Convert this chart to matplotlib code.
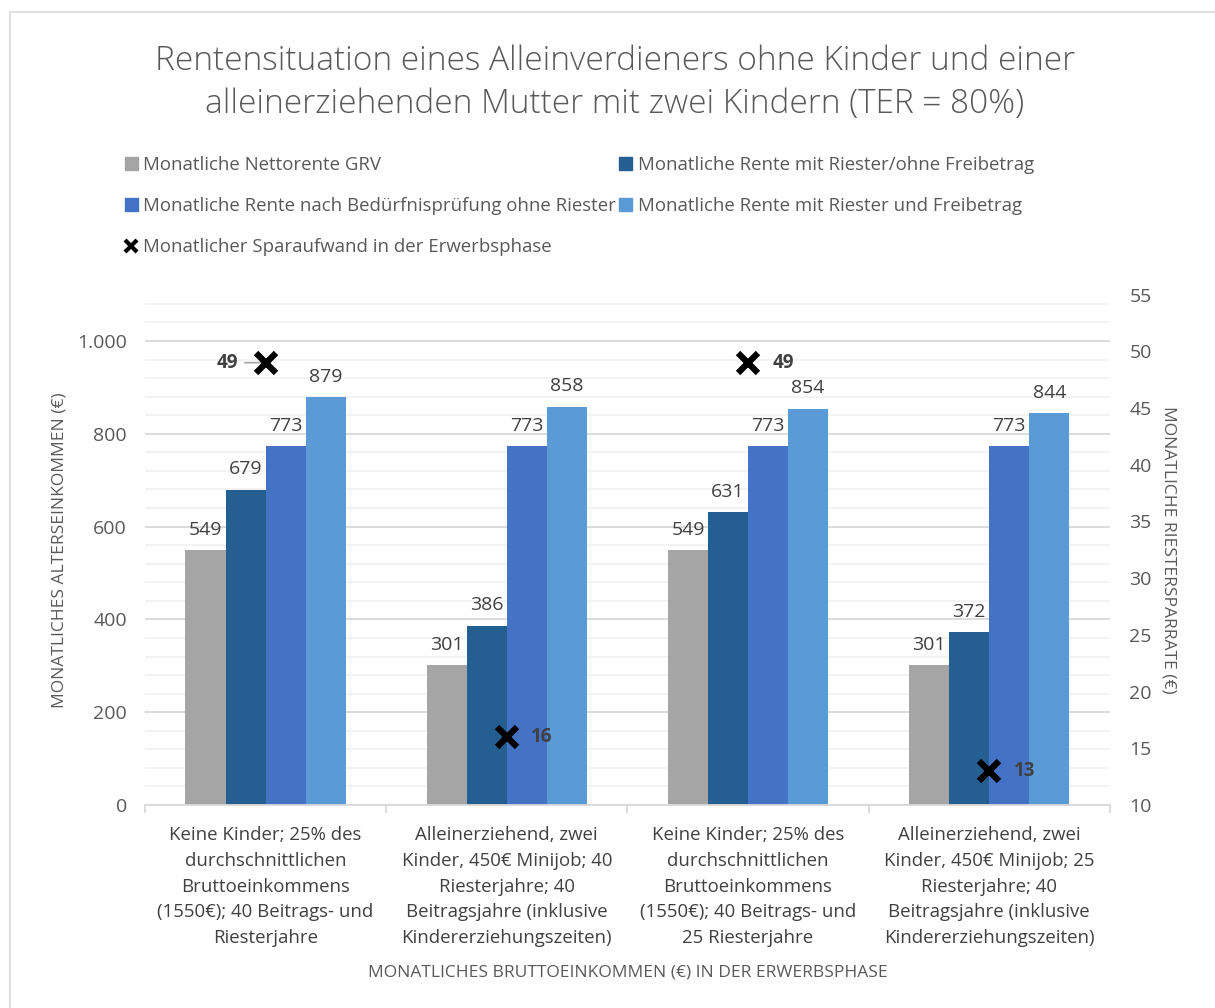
import matplotlib.pyplot as plt
import matplotlib.patches as mpatches
from matplotlib.lines import Line2D
from matplotlib.ticker import MultipleLocator, FuncFormatter
import numpy as np

plt.rcParams['font.family'] = ['Open Sans', 'DejaVu Sans']

# Daten
kategorien = [
    "Keine Kinder; 25% des\ndurchschnittlichen\nBruttoeinkommens\n(1550€); 40 Beitrags- und\nRiesterjahre",
    "Alleinerziehend, zwei\nKinder, 450€ Minijob; 40\nRiesterjahre; 40\nBeitragsjahre (inklusive\nKindererziehungszeiten)",
    "Keine Kinder; 25% des\ndurchschnittlichen\nBruttoeinkommens\n(1550€); 40 Beitrags- und\n25 Riesterjahre",
    "Alleinerziehend, zwei\nKinder, 450€ Minijob; 25\nRiesterjahre; 40\nBeitragsjahre (inklusive\nKindererziehungszeiten)",
]
nettorente_grv = [549, 301, 549, 301]
rente_riester_ohne_fb = [679, 386, 631, 372]
rente_beduerfnis = [773, 773, 773, 773]
rente_riester_fb = [879, 858, 854, 844]
sparaufwand = [49, 16, 49, 13]

serien = [
    ("Monatliche Nettorente GRV", nettorente_grv, "#A5A5A5"),
    ("Monatliche Rente mit Riester/ohne Freibetrag", rente_riester_ohne_fb, "#255E91"),
    ("Monatliche Rente nach Bedürfnisprüfung ohne Riester", rente_beduerfnis, "#4472C4"),
    ("Monatliche Rente mit Riester und Freibetrag", rente_riester_fb, "#5B9BD5"),
]

textfarbe = "#595959"
fig = plt.figure(figsize=(12.15, 10.08), dpi=100)
ax = fig.add_axes([0.1193, 0.2014, 0.7942, 0.5063])
ax2 = ax.twinx()

x = np.arange(len(kategorien))
breite = 0.166
for i, (name, werte, farbe) in enumerate(serien):
    pos = x + (i - 1.5) * breite
    ax.bar(pos, werte, breite, color=farbe, zorder=2, label=name)
    for p, w in zip(pos, werte):
        ax.text(p, w + 25, str(w), ha="center", va="bottom", fontsize=14, color="#404040")

ax.set_xlim(-0.5, 3.5)
ax.set_ylim(0, 1100)
ax.yaxis.set_major_locator(MultipleLocator(200))
ax.yaxis.set_minor_locator(MultipleLocator(40))
ax.yaxis.set_major_formatter(FuncFormatter(lambda v, p: f"{int(v):,}".replace(",", ".")))
ax.grid(axis="y", which="major", color="#D9D9D9", lw=1.3, zorder=0)
ax.grid(axis="y", which="minor", color="#F2F2F2", lw=1.3, zorder=0)
ax.set_axisbelow(True)
ax.tick_params(axis="y", which="both", length=0, labelsize=14, labelcolor=textfarbe, pad=13)
for s in ["top", "left", "right"]:
    ax.spines[s].set_visible(False)
    ax2.spines[s].set_visible(False)
ax2.spines["bottom"].set_visible(False)
ax.spines["bottom"].set_color("#D9D9D9")
ax.spines["bottom"].set_linewidth(1.3)

ax.set_xticks(np.arange(-0.5, 4.0, 1.0))
ax.set_xticklabels([])
ax.tick_params(axis="x", length=6, color="#D9D9D9", width=1.3)
for xi, kat in zip(x, kategorien):
    ax.text(xi, -0.041, kat, transform=ax.get_xaxis_transform(), ha="center", va="top",
            fontsize=13.4, color="#404040", linespacing=1.56)

ax.set_ylabel("MONATLICHES ALTERSEINKOMMEN (€)", fontsize=12.5, color=textfarbe, labelpad=7)
ax.text(0.5, -0.329, "MONATLICHES BRUTTOEINKOMMEN (€) IN DER ERWERBSPHASE",
        transform=ax.transAxes, ha="center", va="center", fontsize=12.5, color=textfarbe)

# Sekundärachse
ax2.set_ylim(10, 55)
ax2.yaxis.set_major_locator(MultipleLocator(5))
ax2.tick_params(axis="y", length=0, labelsize=14, labelcolor=textfarbe, pad=14)
ax2.set_ylabel("MONATLICHE RIESTERSPARRATE (€)", fontsize=12.5, color=textfarbe,
               rotation=270, labelpad=18)
ax2.plot(x, sparaufwand, linestyle="none", marker="x", markersize=15,
         color="black", markeredgewidth=4.5, zorder=5)

# Beschriftungen Sparaufwand
ax2.annotate(str(sparaufwand[0]), xy=(x[0], sparaufwand[0]), xytext=(x[0] - 0.115, sparaufwand[0]),
             ha="right", va="center", fontsize=13.5, fontweight="bold", color="#404040",
             arrowprops=dict(arrowstyle="-", color="#A6A6A6", lw=1.2, shrinkA=3, shrinkB=2))
for i in [1, 2, 3]:
    ax2.text(x[i] + 0.1, sparaufwand[i], str(sparaufwand[i]), ha="left", va="center",
             fontsize=13.5, fontweight="bold", color="#404040")

# Legende
griffe = [mpatches.Patch(color=f, label=n) for n, _, f in serien]
kreuz = Line2D([], [], linestyle="none", marker="x", markersize=9, color="black",
               markeredgewidth=3, label="Monatlicher Sparaufwand in der Erwerbsphase")
reihenfolge = [griffe[0], griffe[2], kreuz, griffe[1], griffe[3]]
fig.legend(handles=reihenfolge, loc="upper left", bbox_to_anchor=(0.089, 0.862), ncol=2,
           frameon=False, fontsize=13.4, labelcolor=textfarbe, handlelength=0.7,
           handleheight=0.7, handletextpad=0.3, columnspacing=0.15, labelspacing=1.25)

fig.text(0.506, 0.918, "Rentensituation eines Alleinverdieners ohne Kinder und einer\n"
         "alleinerziehenden Mutter mit zwei Kindern (TER = 80%)",
         ha="center", va="center", fontsize=24, color=textfarbe, linespacing=1.38,
         fontweight="light")

# Rahmen des Diagramms
fig.patches.append(mpatches.Rectangle((10 / 1215, -0.1), 1.2, 1 - 12 / 1008 + 0.1,
                                      transform=fig.transFigure, fill=False,
                                      edgecolor="#D9D9D9", lw=1.2))

fig.savefig("out.png", dpi=100)
